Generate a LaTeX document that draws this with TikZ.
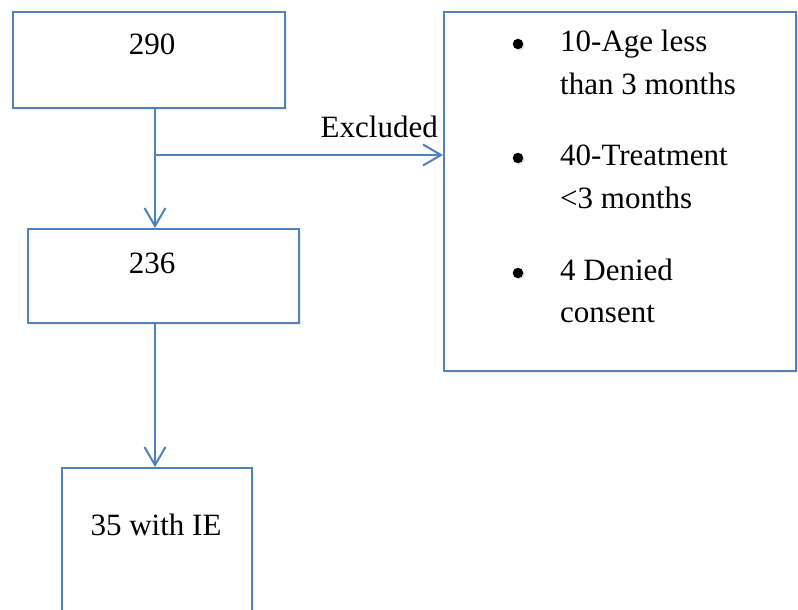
\documentclass[tikz,border=0pt]{standalone}
\usepackage{fontspec}
\setmainfont{Liberation Serif}
\usetikzlibrary{arrows.meta,shadows}
\definecolor{flowblue}{HTML}{4F81BD}
\tikzset{
  x=1pt, y=-1pt,
  boxstyle/.style={draw=flowblue, line width=1.6pt, fill=white, inner sep=0pt,
    anchor=north west,
    drop shadow={opacity=0.15, shadow xshift=2.5pt, shadow yshift=-2.5pt}},
  lbl/.style={inner sep=0pt, font=\fontsize{31}{43}\selectfont},
  dot/.style={circle, fill=black, inner sep=0pt, minimum size=10.5pt,
    drop shadow={opacity=0.2, shadow xshift=1.5pt, shadow yshift=-1.5pt}},
  arr/.style={draw=flowblue, line width=2pt,
    -{Straight Barb[length=18pt, width=21pt, line width=2pt]}},
}
\begin{document}
\begin{tikzpicture}
\useasboundingbox (0,0) rectangle (798,610);
\clip (0,0) rectangle (798,610);

% boxes
\node[boxstyle, minimum width=272pt, minimum height=96pt] (a) at (12,11) {};
\node[boxstyle, minimum width=271pt, minimum height=94pt] (b) at (27,228) {};
\node[boxstyle, minimum width=190pt, minimum height=180pt] (c) at (61,467) {};
\node[boxstyle, minimum width=352pt, minimum height=359pt] (r) at (443,11) {};

% box texts
\node[lbl, anchor=base] (ta) at (152,55) {290};
\node[lbl, anchor=base] (tb) at (152,273) {236};
\node[lbl, anchor=base] (tc) at (156,535) {35 with IE};

% exclusion list
\node[dot] (d1) at (518,44) {};
\node[lbl, anchor=base west] (e1) at (560,52) {10-Age less};
\node[lbl, anchor=base west] (e1b) at (560,95) {than 3 months};
\node[dot] (d2) at (518,158) {};
\node[lbl, anchor=base west] (e2) at (560,165) {40-Treatment};
\node[lbl, anchor=base west] (e2b) at (560,208) {<3 months};
\node[dot] (d3) at (518,273) {};
\node[lbl, anchor=base west] (e3) at (560,280) {4 Denied};
\node[lbl, anchor=base west] (e3b) at (560,322) {consent};

% connectors
\coordinate (j) at (155,155);
\draw[arr] (a.south -| j) -- (b.north -| j);
\draw[arr] (j) -- (j -| r.west);
\draw[arr] (b.south -| j) -- (c.north -| j);
\node[lbl, anchor=base east] (ex) at (438,137) {Excluded};
\end{tikzpicture}
\end{document}
